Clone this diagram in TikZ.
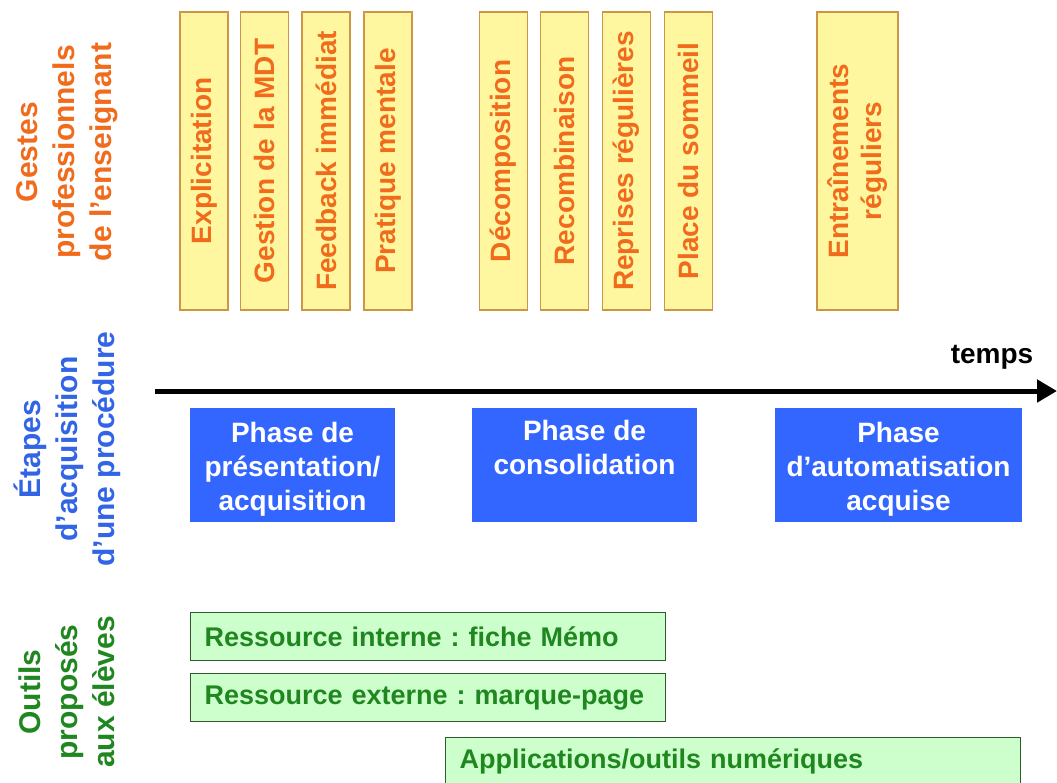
\documentclass[tikz,border=0pt]{standalone}
\usepackage{fontspec}
\setmainfont{Liberation Sans}
\usetikzlibrary{arrows.meta}
\definecolor{orangetxt}{RGB}{240,108,28}
\definecolor{yellowfill}{RGB}{255,247,160}
\definecolor{yellowline}{RGB}{205,150,70}
\definecolor{bluefill}{RGB}{51,102,255}
\definecolor{bluetxt}{RGB}{50,100,230}
\definecolor{greenfill}{RGB}{204,255,204}
\definecolor{greenline}{RGB}{50,90,50}
\definecolor{greentxt}{RGB}{32,135,32}
\newcommand{\topstrut}{\rule{0pt}{29pt}}
\tikzset{
  lbl/.style={rotate=90,align=center,font=\fontsize{30}{37}\bfseries\selectfont,inner sep=0pt},
  obox/.style={rotate=90,draw=yellowline,fill=yellowfill,line width=1.5pt,text=orangetxt,
    font=\fontsize{28}{33}\bfseries\selectfont,minimum height=48pt,minimum width=298pt,inner sep=0pt,align=center},
  bbox/.style={fill=bluefill,text=white,font=\fontsize{28}{34}\bfseries\selectfont,
    minimum height=114pt,align=center,inner sep=0pt},
  gbox/.style={anchor=north west,draw=greenline,fill=greenfill,line width=1.2pt,text=greentxt,
    font=\fontsize{27}{32}\bfseries\selectfont\frenchspacing,minimum height=48pt,inner xsep=14pt,inner ysep=0pt,align=left},
  axis/.style={line width=5pt,-{Triangle[length=20pt,width=22pt]}}
}
\begin{document}
\frenchspacing
\begin{tikzpicture}[x=1pt,y=-1pt]
\useasboundingbox (0,0) rectangle (1057,782);
\clip (0,0) rectangle (1057,782);
\fill[white] (0,0) rectangle (1057,782);
% side labels
\node[lbl,text=orangetxt] (l1) at (67,152) {Gestes\\professionnels\\de l’enseignant};
\node[lbl,text=bluetxt] (l2) at (67,449) {Étapes\\d’acquisition\\d’une procédure};
\node[lbl,text=greentxt] (l3) at (67,692) {Outils\\proposés\\aux élèves};
% orange boxes
\node[obox] (o1) at (204,161) {Explicitation};
\node[obox] (o2) at (264.5,161) {Gestion de la MDT};
\node[obox] (o3) at (326,161) {Feedback immédiat};
\node[obox] (o4) at (388,161) {Pratique mentale};
\node[obox] (o5) at (503.5,161) {Décomposition};
\node[obox] (o6) at (564.5,161) {Recombinaison};
\node[obox] (o7) at (626.5,161) {Reprises régulières};
\node[obox] (o8) at (688.5,161) {Place du sommeil};
\node[obox,minimum height=81pt] (o9) at (857.5,161) {Entraînements\\réguliers};
% time axis
\coordinate (a0) at (155,391);
\coordinate (a1) at (1057,391);
\draw[axis] (a0) -- (a1);
\node[font=\fontsize{28}{33}\bfseries\selectfont,inner sep=0pt] (t) at (992,357) {temps};
% blue phases
\node[bbox,minimum width=205pt] (p1) at (292.5,465) {\topstrut Phase de\\présentation/\\acquisition};
\node[bbox,minimum width=225pt] (p2) at (584.5,465) {\topstrut Phase de\\consolidation\\\strut};
\node[bbox,minimum width=247pt] (p3) at (898.5,465) {\topstrut Phase\\d’automatisation\\acquise};
% green tools
\node[gbox,text width=447pt] (g1) at (190,612) {Ressource interne : fiche Mémo};
\node[gbox,text width=447pt] (g2) at (190,673) {Ressource externe : marque-page};
\node[gbox,text width=547pt] (g3) at (445,737) {Applications/outils numériques};
\end{tikzpicture}
\end{document}
